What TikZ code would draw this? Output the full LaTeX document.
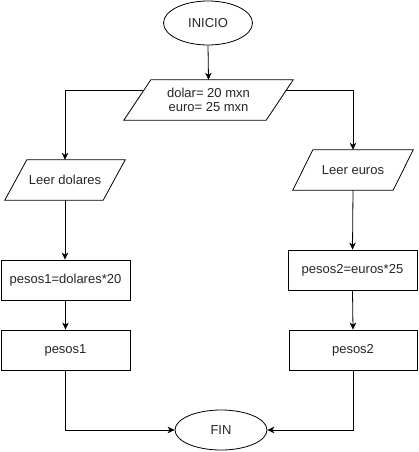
\documentclass[tikz,border=0pt]{standalone}
\usepackage{fontspec}
\setmainfont{Liberation Sans}
\usetikzlibrary{arrows.meta,shapes.geometric,calc}
\tikzset{
  line/.style={draw=black, line width=0.8pt},
  arr/.style={line, -{Stealth[length=7pt,width=6.5pt,inset=2pt]}},
  txt/.style={font=\fontsize{13}{14.5}\selectfont, text=black!85, inner sep=0pt, align=center},
  term/.style={txt, ellipse, line, inner sep=0pt},
  proc/.style={txt, rectangle, line, minimum height=40pt},
  io/.style={txt, rectangle, draw=none, minimum height=40pt},
}
\newcommand\iopara[2]{%
  \draw[line] ([xshift=-#2/2]#1.south west) -- ([xshift=#2/2]#1.north west)
    -- ([xshift=#2/2]#1.north east) -- ([xshift=-#2/2]#1.south east) -- cycle;}
\begin{document}
\begin{tikzpicture}[x=1pt,y=-1pt]
  \fill[white] (0,0) rectangle (418,452);
  \useasboundingbox (0,0) rectangle (418,452);

  \node[term, minimum width=89pt, minimum height=44pt] (ini) at (208,23) {INICIO};
  \node[io, minimum width=142pt] (dol) at (208.5,100) {dolar= 20 mxn\\euro= 25 mxn};
  \iopara{dol}{27pt}

  \node[io, minimum width=98pt] (leerd) at (65,180) {Leer dolares};
  \iopara{leerd}{22pt}
  \node[io, minimum width=100pt] (leere) at (353,170) {Leer euros};
  \iopara{leere}{20pt}

  \node[proc, minimum width=129pt] (p1) at (65.5,280) {pesos1=dolares*20};
  \node[proc, minimum width=129pt] (o1) at (65.5,350) {pesos1};
  \node[proc, minimum width=129pt] (p2) at (352.5,270) {pesos2=euros*25};
  \node[proc, minimum width=128pt] (o2) at (353,350) {pesos2};

  \node[term, minimum width=92pt, minimum height=40pt] (fin) at (221,430) {FIN};

  \draw[arr] (ini.south) -- (dol.north);
  \draw[arr] ([shift={(6.75pt,10pt)}]dol.west) -| (leerd.north);
  \draw[arr] ([shift={(6.75pt,10pt)}]dol.east) -| (leere.north);
  \draw[arr] (leerd.south) -- (leerd.south |- p1.north);
  \draw[arr] (p1.south) -- (o1.north);
  \draw[arr] (leere.south) -- (p2.north);
  \draw[arr] (p2.south) -- (o2.north);
  \draw[arr] (o1.south) |- (fin.west);
  \draw[arr] (o2.south) |- (fin.east);
\end{tikzpicture}
\end{document}
